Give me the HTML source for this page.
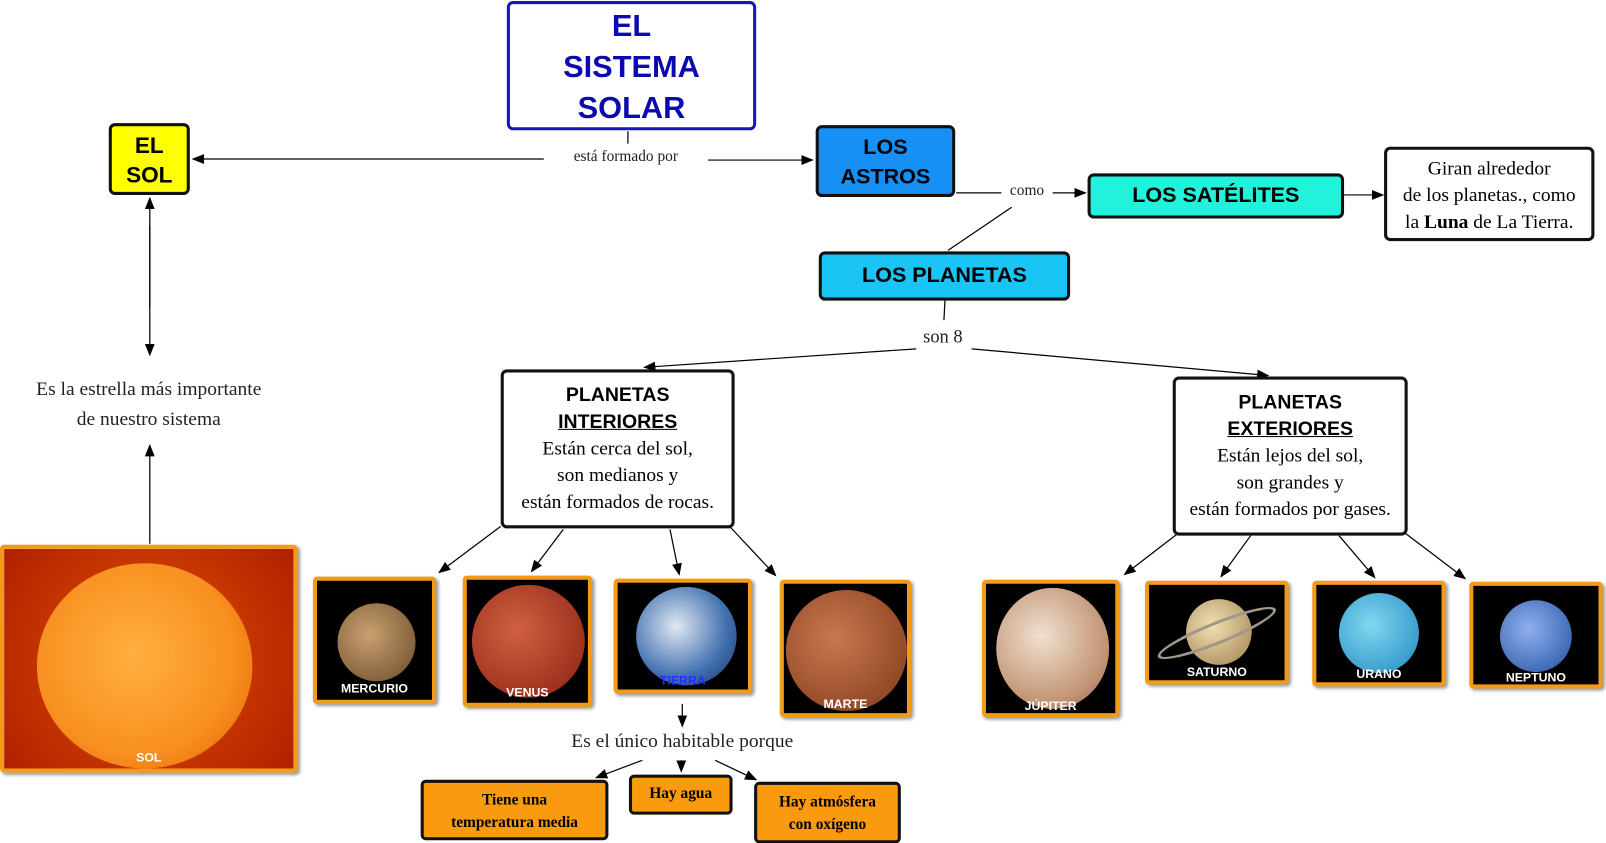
<!DOCTYPE html>
<html><head><meta charset="utf-8"><style>
body{margin:0;width:1606px;height:842px;background:#fff;position:relative;overflow:hidden;font-family:"Liberation Serif",serif}
#w{position:absolute;left:0;top:0;width:1566px;height:821px;transform:scale(1.026);transform-origin:0 0}
.b{position:absolute;box-sizing:border-box;border:3px solid #111;border-radius:6px;text-align:center;font-family:"Liberation Sans",sans-serif;font-weight:900}
.t{position:absolute;font-family:"Liberation Serif",serif;font-size:19px;color:#222;text-align:center;white-space:nowrap}
.p{position:absolute;box-sizing:border-box;border:4px solid #f39a17;background:#000;border-radius:4px;box-shadow:2px 2px 3px #999}
.p .c{position:absolute;border-radius:50%}
.p span{position:absolute;left:0;right:0;color:#fff;font:bold 12px "Liberation Sans",sans-serif;text-align:center}
.o{position:absolute;box-sizing:border-box;border:3px solid #111;border-radius:5px;background:#fa9a0e;font:bold 15px "Liberation Serif",serif;text-align:center;line-height:22px}
</style></head><body><div id="w">
<svg width="1566" height="821" style="position:absolute;left:0;top:0">
<defs><marker id="a" markerWidth="10" markerHeight="8" refX="9" refY="4" orient="auto"><path d="M0,0L10,4L0,8z" fill="#000"/></marker></defs>
<g stroke="#000" stroke-width="1.2" fill="none">
<line x1="612" y1="128" x2="612" y2="140"/>
<line x1="530" y1="155" x2="188" y2="155" marker-end="url(#a)"/>
<line x1="690" y1="156" x2="792" y2="156" marker-end="url(#a)"/>
<line x1="146" y1="220" x2="146" y2="346" marker-end="url(#a)"/>
<path d="M146,300 L146,193" marker-end="url(#a)"/>
<line x1="146" y1="530" x2="146" y2="434" marker-end="url(#a)"/>
<line x1="932" y1="188" x2="976" y2="188"/>
<line x1="1026" y1="188" x2="1058" y2="188" marker-end="url(#a)"/>
<line x1="1310" y1="190" x2="1348" y2="190" marker-end="url(#a)"/>
<line x1="986" y1="202" x2="924" y2="244"/>
<line x1="921" y1="293" x2="920" y2="312"/>
<line x1="893" y1="340" x2="628" y2="358" marker-end="url(#a)"/>
<line x1="947" y1="340" x2="1236" y2="366" marker-end="url(#a)"/>
<line x1="488" y1="513" x2="428" y2="558" marker-end="url(#a)"/>
<line x1="549" y1="516" x2="518" y2="557" marker-end="url(#a)"/>
<line x1="653" y1="516" x2="662" y2="560" marker-end="url(#a)"/>
<line x1="712" y1="514" x2="756" y2="561" marker-end="url(#a)"/>
<line x1="1148" y1="520" x2="1096" y2="560" marker-end="url(#a)"/>
<line x1="1219" y1="522" x2="1190" y2="562" marker-end="url(#a)"/>
<line x1="1305" y1="522" x2="1340" y2="563" marker-end="url(#a)"/>
<line x1="1370" y1="520" x2="1428" y2="564" marker-end="url(#a)"/>
<line x1="665" y1="686" x2="665" y2="708" marker-end="url(#a)"/>
<line x1="626" y1="741" x2="581" y2="758" marker-end="url(#a)"/>
<line x1="664" y1="741" x2="664" y2="752" marker-end="url(#a)"/>
<line x1="697" y1="741" x2="737" y2="760" marker-end="url(#a)"/>
</g></svg>

<div class="b" style="left:494px;top:1px;width:243px;height:126px;border-color:#1c14b8;color:#0a0ab0;font-size:30px;line-height:40px;padding-top:2px">EL<br>SISTEMA<br>SOLAR</div>
<div class="b" style="left:106px;top:120px;width:79px;height:70px;background:#ffff00;font-size:22px;line-height:29px;padding-top:4px">EL<br>SOL</div>
<div class="b" style="left:795px;top:122px;width:136px;height:70px;background:#1690f4;font-size:21px;line-height:29px;padding-top:4px">LOS<br>ASTROS</div>
<div class="b" style="left:1060px;top:169px;width:250px;height:44px;background:#21f2dc;font-size:21px;line-height:38px">LOS SATÉLITES</div>
<div class="b" style="left:1349px;top:143px;width:205px;height:92px;background:#fff;font:19px 'Liberation Serif',serif;line-height:26px;padding-top:6px">Giran alrededor<br>de los planetas., como<br>la <b>Luna</b> de La Tierra.</div>
<div class="b" style="left:798px;top:245px;width:245px;height:48px;background:#1ac4f4;font-size:21px;line-height:42px">LOS PLANETAS</div>
<div class="b" style="left:488px;top:360px;width:228px;height:155px;background:#fff;font-weight:normal;padding-top:10px">
<div style="font:900 19px 'Liberation Sans',sans-serif;line-height:26px">PLANETAS<br><u>INTERIORES</u></div>
<div style="font:19px 'Liberation Serif',serif;line-height:26px">Están cerca del sol,<br>son medianos y<br>están formados de rocas.</div></div>
<div class="b" style="left:1143px;top:367px;width:229px;height:155px;background:#fff;font-weight:normal;padding-top:10px">
<div style="font:900 19px 'Liberation Sans',sans-serif;line-height:26px">PLANETAS<br><u>EXTERIORES</u></div>
<div style="font:19px 'Liberation Serif',serif;line-height:26px">Están lejos del sol,<br>son grandes y<br>están formados por gases.</div></div>

<div class="t" style="left:540px;top:145px;width:140px;font-size:15px">está formado por</div>
<div class="t" style="left:978px;top:178px;width:46px;font-size:15px">como</div>
<div class="t" style="left:893px;top:318px;width:52px;font-size:18px">son 8</div>
<div class="t" style="left:0;top:365px;width:290px;line-height:29px">Es la estrella más importante<br>de nuestro sistema</div>
<div class="t" style="left:540px;top:712px;width:250px">Es el único habitable porque</div>

<div class="p" style="left:0;top:531px;width:290px;height:222px;background:radial-gradient(circle at 50% 50%,#e05000,#b02000)"><div class="c" style="left:32px;top:14px;width:210px;height:200px;background:radial-gradient(circle at 45% 45%,#ffb040,#f89020 60%,#e06000)"></div><span style="top:196px">SOL</span></div>
<div class="p" style="left:305px;top:562px;width:120px;height:124px"><div class="c" style="left:20px;top:22px;width:76px;height:76px;background:radial-gradient(circle at 40% 40%,#c9a070,#6a4a28)"></div><span style="top:98px">MERCURIO</span></div>
<div class="p" style="left:451px;top:561px;width:126px;height:128px"><div class="c" style="left:5px;top:5px;width:110px;height:110px;background:radial-gradient(circle at 40% 40%,#d06040,#8a2010)"></div><span style="top:103px">VENUS</span></div>
<div class="p" style="left:598px;top:564px;width:135px;height:112px"><div class="c" style="left:18px;top:4px;width:98px;height:96px;background:radial-gradient(circle at 40% 40%,#e0e8f0,#4070b0 60%,#203060)"></div><span style="top:88px;color:#2030ff">TIERRA</span></div>
<div class="p" style="left:760px;top:565px;width:128px;height:134px"><div class="c" style="left:2px;top:6px;width:118px;height:118px;background:radial-gradient(circle at 40% 40%,#c87850,#803818)"></div><span style="top:110px">MARTE</span></div>
<div class="p" style="left:957px;top:565px;width:134px;height:134px"><div class="c" style="left:10px;top:4px;width:110px;height:118px;background:radial-gradient(circle at 40% 40%,#f0e0d0,#c09070 70%,#706050)"></div><span style="top:112px">JÚPITER</span></div>
<div class="p" style="left:1116px;top:566px;width:140px;height:101px"><div class="c" style="left:36px;top:14px;width:64px;height:64px;background:radial-gradient(circle at 40% 40%,#f0e0b0,#a08050)"></div><div class="c" style="left:4px;top:36px;width:124px;height:22px;border:3px solid #a09888;border-radius:50%;transform:rotate(-22deg);box-sizing:border-box"></div><span style="top:78px">SATURNO</span></div>
<div class="p" style="left:1279px;top:566px;width:130px;height:103px"><div class="c" style="left:22px;top:8px;width:78px;height:78px;background:radial-gradient(circle at 40% 40%,#80d8f0,#2088c0)"></div><span style="top:80px">URANO</span></div>
<div class="p" style="left:1432px;top:567px;width:130px;height:104px"><div class="c" style="left:26px;top:14px;width:70px;height:70px;background:radial-gradient(circle at 40% 40%,#90b0f0,#2050a0)"></div><span style="top:82px">NEPTUNO</span></div>

<div class="o" style="left:410px;top:760px;width:183px;height:59px;padding-top:6px">Tiene una<br>temperatura media</div>
<div class="o" style="left:613px;top:755px;width:101px;height:39px;padding-top:5px">Hay agua</div>
<div class="o" style="left:735px;top:762px;width:143px;height:60px;padding-top:6px">Hay atmósfera<br>con oxígeno</div>
</div></body></html>
